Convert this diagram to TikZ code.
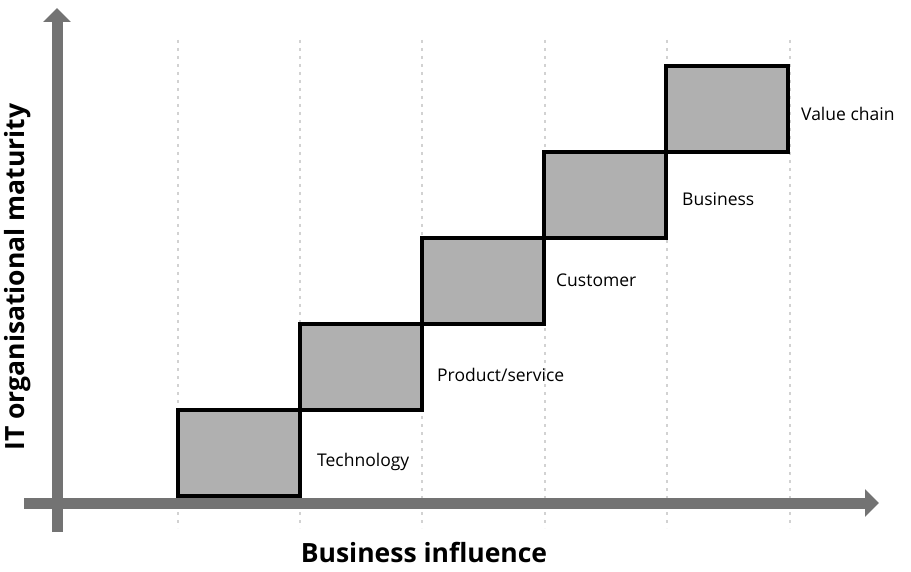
\documentclass[tikz,border=0pt]{standalone}
\usepackage{fontspec}
\setmainfont{Open Sans}
\usetikzlibrary{positioning,arrows.meta}
\definecolor{axisgray}{RGB}{115,115,115}
\definecolor{stagefill}{RGB}{176,176,176}
\definecolor{gridgray}{RGB}{210,210,210}

\begin{document}
\begin{tikzpicture}[x=1pt,y=-1pt,every node/.style={font=\fontsize{17.5}{20}\selectfont},
    stage/.style={draw=black,fill=stagefill,line width=3.2pt,outer sep=0pt,inner sep=0pt,minimum width=122pt,minimum height=86pt},
    lbl/.style={inner sep=0pt,anchor=west},
    axis/.style={draw=axisgray,line width=11pt,-{Triangle[width=27pt,length=14pt]}},
    axislbl/.style={font=\fontsize{26.5}{30}\bfseries\selectfont}]
    \useasboundingbox (0,0) rectangle (911,572);
    % grid
    \foreach \gx in {178,300,422,545,667,790}
      \draw[gridgray,line width=1.4pt,dash pattern=on 3pt off 5pt] (\gx,40) -- (\gx,528);
    % axes
    \coordinate (origin) at (57,503);
    \coordinate (ybot) at (57,532);
    \coordinate (ytop) at (57,8);
    \coordinate (xleft) at (24,503);
    \coordinate (xright) at (879,503);
    \draw[axis] (ybot) -- (ytop);
    \draw[axis] (xleft) -- (xright);
    \node[axislbl] (xlab) at (424,552) {Business influence};
    \node[axislbl,rotate=90] (ylab) at (18,277) {IT organisational maturity};
    % stages
    \node[stage] (s1) at (239,453) {};
    \node[stage,above right=0pt and 0pt of s1.north east] (s2) {};
    \node[stage,above right=0pt and 0pt of s2.north east] (s3) {};
    \node[stage,above right=0pt and 0pt of s3.north east] (s4) {};
    \node[stage,above right=0pt and 0pt of s4.north east] (s5) {};
    \node[lbl,right=17pt of s1.east,yshift=-9pt] (l1) {Technology};
    \node[lbl,right=15pt of s2.east,yshift=-8pt] (l2) {Product/service};
    \node[lbl,right=12pt of s3.east,yshift=1pt] (l3) {Customer};
    \node[lbl,right=16pt of s4.east,yshift=-4pt] (l4) {Business};
    \node[lbl,right=13pt of s5.east,yshift=-5pt] (l5) {Value chain};
  \end{tikzpicture}
\end{document}
